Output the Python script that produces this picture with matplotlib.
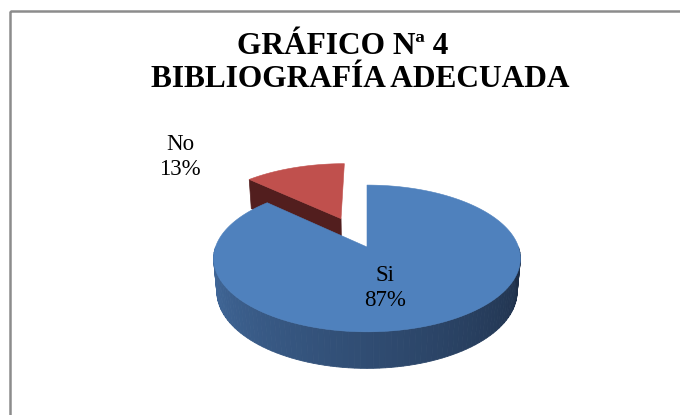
import numpy as np
import matplotlib
matplotlib.use("Agg")
import matplotlib.pyplot as plt
from matplotlib.patches import Polygon, Rectangle

# =============================================================================
# Data
# =============================================================================

labels = ["Si", "No"]
values = [87, 13]
title_lines = ["GRÁFICO Nª 4", "BIBLIOGRAFÍA ADECUADA"]

top_colors = ["#4F81BD", "#C0504D"]
side_colors = [("#436c9f", "#1d2d46"), ("#521e1e", "#4a1b1b")]
explode = [0.0, 0.46]

# =============================================================================
# 3D projection settings (Excel-like pie with perspective)
# =============================================================================

W, H = 680, 415
cx, cy = 367, 247          # projected pie centre (pixels)
S = 151.5                  # pixels per unit radius
elev = np.radians(28.2)
D = 5.65                   # perspective distance
depth = 0.25               # pie thickness


def project(x, y, z):
    v = z * np.cos(elev) + y * np.sin(elev)
    w = y * np.cos(elev) - z * np.sin(elev)
    s = D / (D + w)
    return cx + x * s * S, cy - v * s * S


def arc(a0, a1, ox, oy, z, n=120):
    t = np.radians(np.linspace(a0, a1, n))
    return [project(np.cos(a) + ox, np.sin(a) + oy, z) for a in t]


fig = plt.figure(figsize=(W / 100, H / 100), dpi=100)
ax = fig.add_axes([0, 0, 1, 1])
ax.set_xlim(0, W)
ax.set_ylim(H, 0)
ax.axis("off")

# frame round the chart
ax.add_patch(Rectangle((9.5, 11), 700, 420, fill=False, edgecolor="#8c8c8c",
                       linewidth=1.8, zorder=0))

# slice angles: first slice starts at 12 o'clock and runs clockwise
fracs = np.array(values) / sum(values)
bounds = 90 - 360 * np.concatenate([[0], np.cumsum(fracs)])

slices = []
for i in range(len(values)):
    a_hi, a_lo = bounds[i], bounds[i + 1]
    a_lo, a_hi = a_lo % 360, a_hi % 360
    if a_hi <= a_lo:
        a_hi += 360
    mid = np.radians((a_lo + a_hi) / 2)
    ox, oy = explode[i] * np.cos(mid), explode[i] * np.sin(mid)
    slices.append((i, a_lo, a_hi, ox, oy))

# draw back slices first (larger y offset = further away)
slices.sort(key=lambda s: -s[4])

for i, a_lo, a_hi, ox, oy in slices:
    c_light, c_dark = [np.array(matplotlib.colors.to_rgb(c)) for c in side_colors[i]]

    # radial cut faces that face the viewer
    for ang, normal in [(a_lo, a_lo - 90), (a_hi, a_hi + 90)]:
        if np.sin(np.radians(normal)) < -0.05:
            r = np.radians(ang)
            pts = [project(ox, oy, 0), project(np.cos(r) + ox, np.sin(r) + oy, 0),
                   project(np.cos(r) + ox, np.sin(r) + oy, -depth),
                   project(ox, oy, -depth)]
            ax.add_patch(Polygon(pts, closed=True, facecolor=c_light,
                                 edgecolor=c_light, linewidth=0.5, zorder=2))

    # outer wall on the front half, with a left-to-right shading
    for k in range(-1, 2):
        lo = max(a_lo, 180 + 360 * k)
        hi = min(a_hi, 360 + 360 * k)
        if hi <= lo:
            continue
        edges = np.linspace(lo, hi, 91)
        for e0, e1 in zip(edges[:-1], edges[1:]):
            t = (((e0 + e1) / 2) % 360 - 180) / 180
            col = c_light * (1 - t) + c_dark * t
            pts = arc(e0, e1, ox, oy, 0, 4) + arc(e1, e0, ox, oy, -depth, 4)
            ax.add_patch(Polygon(pts, closed=True, facecolor=col,
                                 edgecolor=col, linewidth=0.6, zorder=2))

    # top face
    pts = [project(ox, oy, 0)] + arc(a_lo, a_hi, ox, oy, 0, 240)
    ax.add_patch(Polygon(pts, closed=True, facecolor=top_colors[i],
                         edgecolor=top_colors[i], linewidth=0.4, zorder=3))

# =============================================================================
# Labels and title
# =============================================================================

label_font = dict(family="Liberation Serif", fontsize=16.5, linespacing=1.3,
                  ha="center", va="center", zorder=5)
for i, lab in enumerate(labels):
    txt = f"{lab}\n{values[i]}%"
    if i == 0:
        ax.text(385, 288, txt, **label_font)
    else:
        ax.text(180, 157, txt, **label_font)

title_font = dict(family="Liberation Serif", fontweight="bold", fontsize=22.6,
                  ha="center", va="baseline")
ax.text(343, 53.5, title_lines[0], **title_font)
ax.text(360, 87, title_lines[1], **title_font)

plt.savefig("out.png", dpi=100)
plt.close()
